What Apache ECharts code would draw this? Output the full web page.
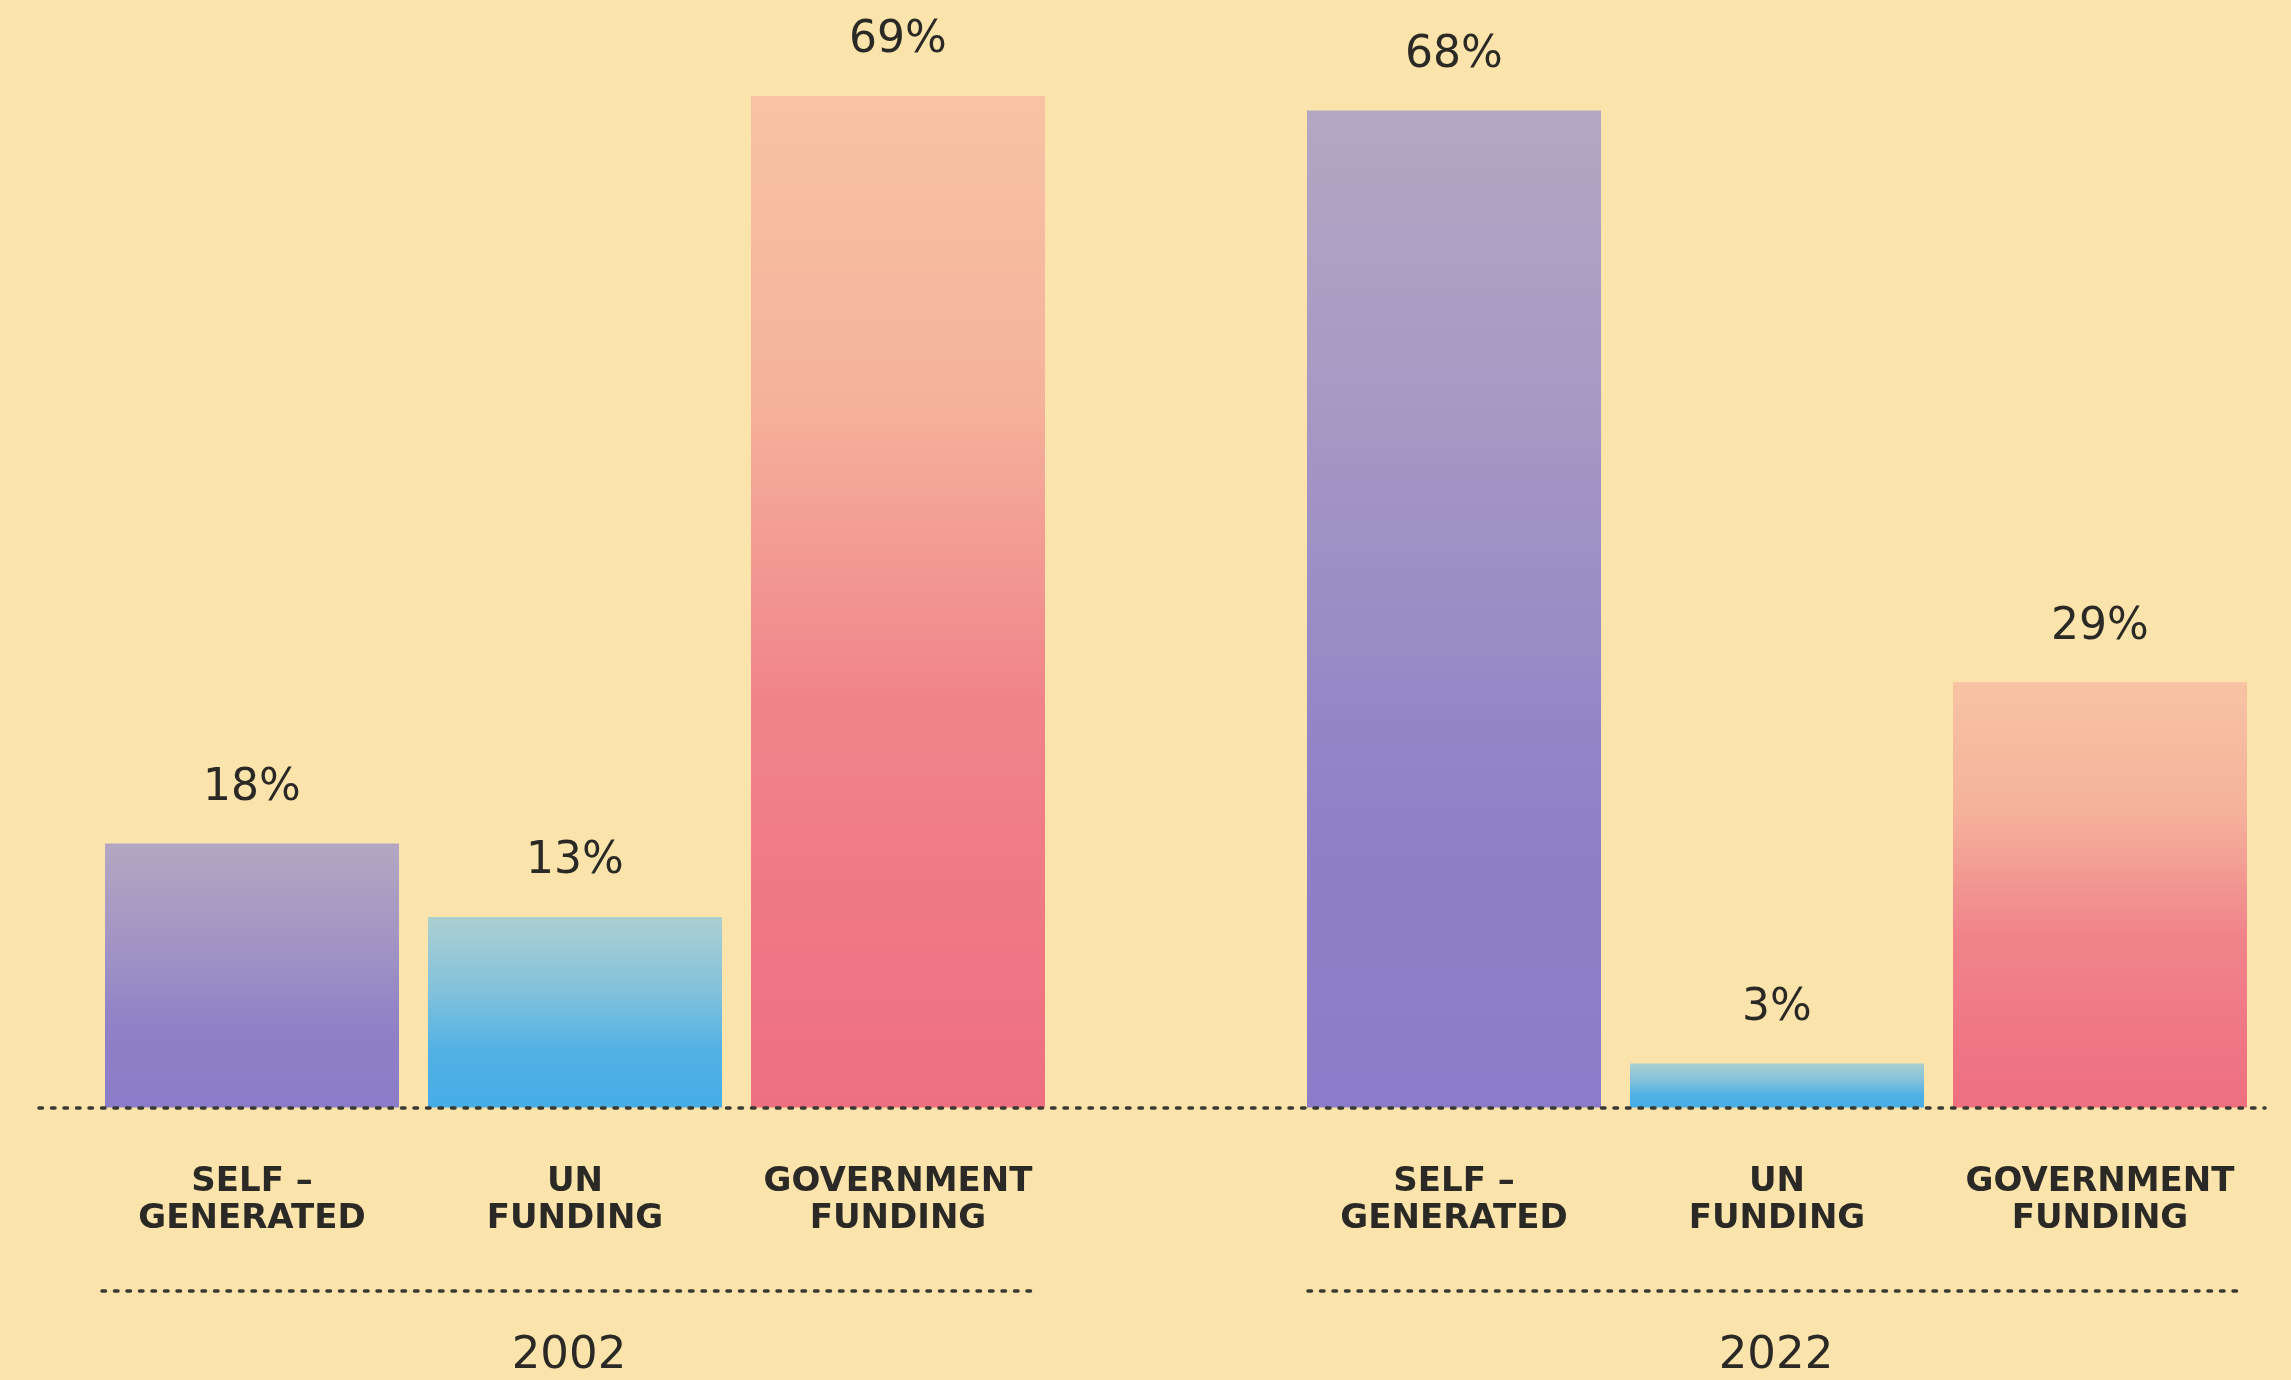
<!DOCTYPE html>
<html>
<head>
<meta charset="utf-8">
<script src="https://cdn.jsdelivr.net/npm/echarts@6/dist/echarts.min.js"></script>
<style>
  html, body { margin: 0; padding: 0; background: #fbe4ab; }
  #chart { width: 2291px; height: 1380px; }
</style>
</head>
<body>
<div id="chart"></div>
<script>
// ---- data ----
const categories = ['SELF –\nGENERATED', 'UN\nFUNDING', 'GOVERNMENT\nFUNDING'];
const years = ['2002', '2022'];
const values2002 = [18, 13, 69];
const values2022 = [68, 3, 29];

// ---- styles ----
const textColor = '#2b2925';
const dotColor = '#3a3833';
const fontFamily = '"DejaVu Sans", sans-serif';
function grad(stops) {
  return new echarts.graphic.LinearGradient(0, 0, 0, 1,
    stops.map(s => ({ offset: s[0], color: s[1] })));
}
const barColors = [
  grad([[0, '#b4a7c2'], [0.4, '#a093c4'], [0.7, '#8e81c7'], [1, '#8a7cc8']]),
  grad([[0, '#abd0d0'], [0.4, '#80c1dc'], [0.7, '#52b1e4'], [1, '#46ade6']]),
  grad([[0, '#f7c3a3'], [0.3, '#f5b29b'], [0.6, '#f0838a'], [1, '#ee6f80']])
];

const yMax = 75;
const dotted = { color: dotColor, width: 3.5, type: [3.5, 9] };

function barSeries(vals, idx) {
  return {
    type: 'bar',
    xAxisIndex: idx,
    yAxisIndex: idx,
    barWidth: 294,
    z: 2,
    data: vals.map((v, i) => ({ value: v, itemStyle: { color: barColors[i] } })),
    label: {
      show: true,
      position: 'top',
      distance: 33,
      formatter: '{c}%',
      color: textColor,
      fontFamily: fontFamily,
      fontSize: 44,
      fontWeight: 'normal'
    }
  };
}

function catAxis(gridIndex) {
  return {
    type: 'category',
    gridIndex: gridIndex,
    data: categories,
    position: 'bottom',
    axisLine: { show: false },
    axisTick: { show: false },
    splitLine: { show: false },
    axisLabel: {
      interval: 0,
      margin: 56,
      color: textColor,
      fontFamily: fontFamily,
      fontSize: 34,
      fontWeight: 'bold',
      lineHeight: 37,
      align: 'center'
    }
  };
}

function yearAxis(gridIndex, year) {
  return {
    type: 'category',
    gridIndex: gridIndex,
    data: [year],
    position: 'bottom',
    offset: 183,
    axisLine: { show: true, onZero: false, lineStyle: dotted },
    axisTick: { show: false },
    splitLine: { show: false },
    axisLabel: {
      margin: 43,
      color: textColor,
      fontFamily: fontFamily,
      fontSize: 45,
      lineHeight: 45
    }
  };
}

function valAxis(gridIndex) {
  return {
    type: 'value',
    gridIndex: gridIndex,
    min: 0,
    max: yMax,
    show: false
  };
}

const option = {
  backgroundColor: '#fbe4ab',
  animation: false,
  grid: [
    { left: 90.5, width: 969, top: 8, bottom: 272.5 },
    { left: 1292.5, width: 969, top: 8, bottom: 272.5 },
    { left: 39, right: 26, top: 8, bottom: 272.5 },
    { left: 102, width: 934, top: 8, bottom: 272.5 },
    { left: 1308, width: 936, top: 8, bottom: 272.5 }
  ],
  xAxis: [
    catAxis(0),
    catAxis(1),
    yearAxis(3, years[0]),
    yearAxis(4, years[1]),
    {
      type: 'category',
      gridIndex: 2,
      data: [''],
      z: 5,
      axisLine: { show: true, onZero: false, lineStyle: dotted },
      axisTick: { show: false },
      axisLabel: { show: false },
      splitLine: { show: false }
    }
  ],
  yAxis: [valAxis(0), valAxis(1), valAxis(2), valAxis(3), valAxis(4)],
  series: [
    barSeries(values2002, 0),
    barSeries(values2022, 1),
    { type: 'bar', xAxisIndex: 4, yAxisIndex: 2, data: [], silent: true },
    { type: 'bar', xAxisIndex: 2, yAxisIndex: 3, data: [], silent: true },
    { type: 'bar', xAxisIndex: 3, yAxisIndex: 4, data: [], silent: true }
  ]
};

const chart = echarts.init(document.getElementById('chart'), null, { renderer: 'canvas' });
chart.setOption(option);
</script>
</body>
</html>
